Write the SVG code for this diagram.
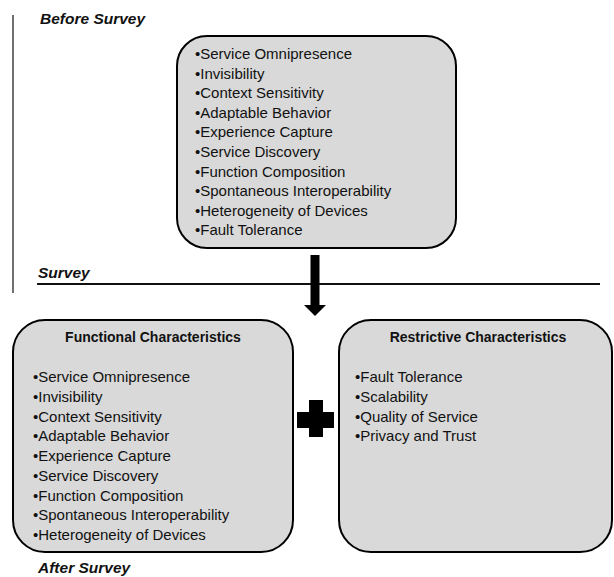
<svg xmlns="http://www.w3.org/2000/svg" width="614" height="577" viewBox="0 0 614 577">
<style>
.box{fill:#d9d9d9;stroke:#000;stroke-width:2}
.t{font-family:"Liberation Sans",Arial,sans-serif;font-size:15px;fill:#111}
.h{font-family:"Liberation Sans",Arial,sans-serif;font-size:14px;font-weight:bold;fill:#111}
.lbl{font-family:"Liberation Sans",Arial,sans-serif;font-size:15.5px;font-weight:bold;font-style:italic;fill:#111}
</style>
<rect width="614" height="577" fill="#fff"/>
<g id="frame">
<line x1="13" y1="15" x2="13" y2="293" stroke="#111" stroke-width="1.2"/>
<line x1="37" y1="284" x2="600" y2="284" stroke="#111" stroke-width="2"/>
<text class="lbl" x="40" y="24">Before Survey</text>
<text class="lbl" x="38" y="278">Survey</text>
<text class="lbl" x="38" y="573">After Survey</text>
</g>
<g id="before">
<rect class="box" x="177" y="36" width="279" height="212" rx="30" ry="30"/>
<text class="t">
<tspan x="195" y="59">•Service Omnipresence</tspan>
<tspan x="195" y="78.5">•Invisibility</tspan>
<tspan x="195" y="98">•Context Sensitivity</tspan>
<tspan x="195" y="117.5">•Adaptable Behavior</tspan>
<tspan x="195" y="137">•Experience Capture</tspan>
<tspan x="195" y="157">•Service Discovery</tspan>
<tspan x="195" y="176.5">•Function Composition</tspan>
<tspan x="195" y="196">•Spontaneous Interoperability</tspan>
<tspan x="195" y="215.5">•Heterogeneity of Devices</tspan>
<tspan x="195" y="235">•Fault Tolerance</tspan>
</text>
</g>
<g id="functional">
<rect class="box" x="13" y="320" width="280" height="232" rx="32" ry="32"/>
<text class="h" x="153" y="342" text-anchor="middle">Functional Characteristics</text>
<text class="t">
<tspan x="33" y="382">•Service Omnipresence</tspan>
<tspan x="33" y="401.75">•Invisibility</tspan>
<tspan x="33" y="421.5">•Context Sensitivity</tspan>
<tspan x="33" y="441.25">•Adaptable Behavior</tspan>
<tspan x="33" y="461">•Experience Capture</tspan>
<tspan x="33" y="480.75">•Service Discovery</tspan>
<tspan x="33" y="500.5">•Function Composition</tspan>
<tspan x="33" y="520.25">•Spontaneous Interoperability</tspan>
<tspan x="33" y="540">•Heterogeneity of Devices</tspan>
</text>
</g>
<g id="restrictive">
<rect class="box" x="339" y="320" width="273" height="232" rx="32" ry="32"/>
<text class="h" x="478" y="342" text-anchor="middle">Restrictive Characteristics</text>
<text class="t">
<tspan x="355" y="382">•Fault Tolerance</tspan>
<tspan x="355" y="401.75">•Scalability</tspan>
<tspan x="355" y="421.5">•Quality of Service</tspan>
<tspan x="355" y="441.25">•Privacy and Trust</tspan>
</text>
</g>
<g id="plus">
<rect x="297" y="412" width="37" height="16" fill="#000"/>
<rect x="309" y="400" width="14" height="37" fill="#000"/>
</g>
<g id="connectors">
<rect x="310.5" y="255" width="9" height="51" fill="#000"/>
<polygon points="304,305 326,305 315,316" fill="#000"/>
</g>
</svg>
